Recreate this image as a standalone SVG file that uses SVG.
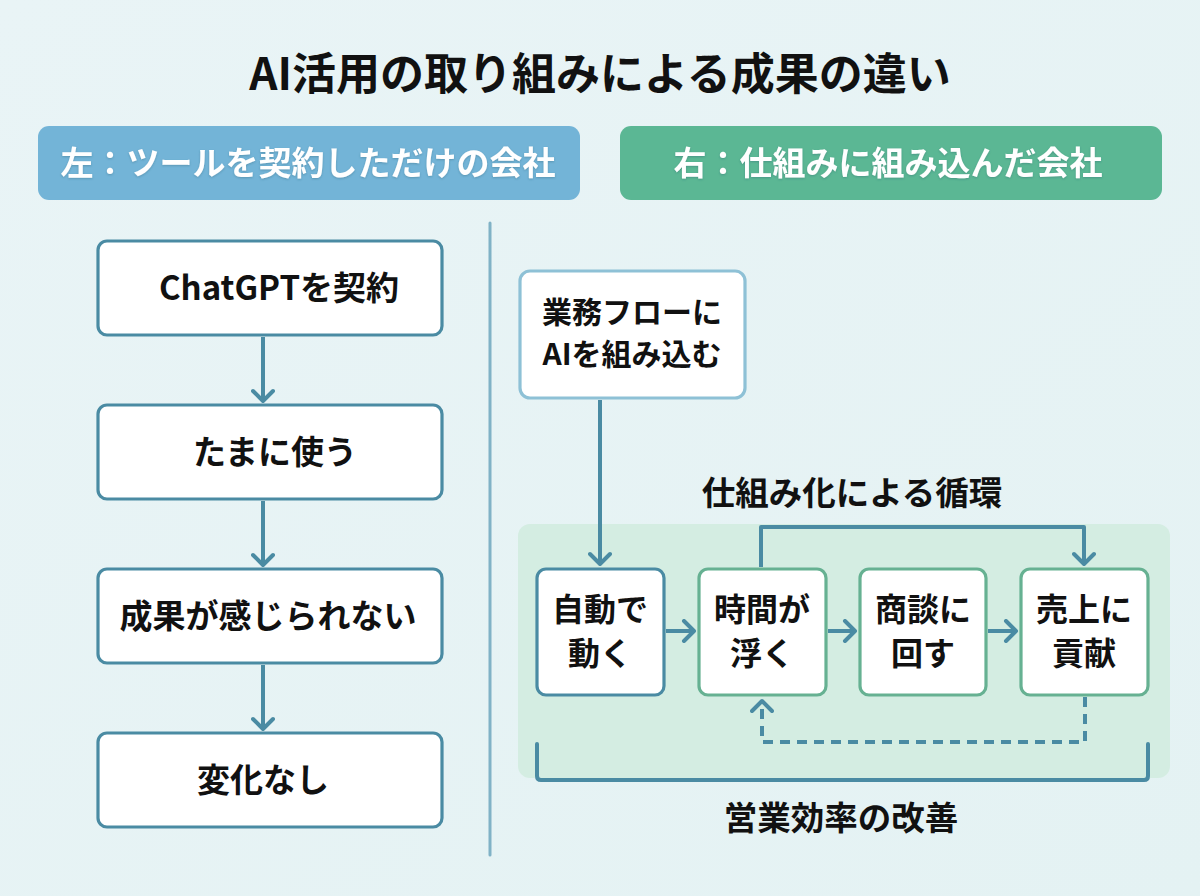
<svg xmlns="http://www.w3.org/2000/svg" width="1200" height="896" viewBox="0 0 1200 896">
<defs>
<linearGradient id="bg" x1="0" y1="0" x2="1" y2="1">
<stop offset="0" stop-color="#e9f4f6"/>
<stop offset="1" stop-color="#e4f2f3"/>
</linearGradient>
<filter id="ts" x="-5%" y="-20%" width="110%" height="140%">
<feDropShadow dx="0" dy="1" stdDeviation="1" flood-color="#2a5a6a" flood-opacity="0.35"/>
</filter>
<marker id="ah" viewBox="0 0 24 24" refX="12" refY="21" markerWidth="24" markerHeight="24" markerUnits="userSpaceOnUse" orient="0">
<path d="M2,11 L12,21 L22,11" fill="none" stroke="#4a8ba3" stroke-width="4" stroke-linecap="round" stroke-linejoin="round"/>
</marker>
<marker id="ahr" viewBox="0 0 24 24" refX="21" refY="12" markerWidth="24" markerHeight="24" markerUnits="userSpaceOnUse" orient="0">
<path d="M11,2 L21,12 L11,22" fill="none" stroke="#4a8ba3" stroke-width="4" stroke-linecap="round" stroke-linejoin="round"/>
</marker>
<marker id="ahu" viewBox="0 0 24 24" refX="12" refY="3" markerWidth="24" markerHeight="24" markerUnits="userSpaceOnUse" orient="0">
<path d="M2,13 L12,3 L22,13" fill="none" stroke="#4a8ba3" stroke-width="4" stroke-linecap="round" stroke-linejoin="round"/>
</marker>
</defs>
<style>
text{font-family:"Noto Sans CJK JP","Noto Sans",sans-serif;font-weight:700;fill:#111;text-anchor:middle}
.hd{fill:#fff;font-size:33px}
.bx{fill:#fff;stroke:#4a8ba3;stroke-width:3.2}
.gb{fill:#fff;stroke:#66b192;stroke-width:3.2}
.lt{fill:#fff;stroke:#8ec1d6;stroke-width:3.2}
.t{font-size:33px}
.t2{font-size:32px}
.t3{font-size:30px}
.c{fill:none;stroke:#4a8ba3;stroke-width:4;stroke-linejoin:round}
</style>
<rect width="1200" height="896" fill="url(#bg)"/>

<g id="title"><text x="600" y="90" style="font-size:44px">AI活用の取り組みによる成果の違い</text></g>

<g id="header-left">
<rect x="38" y="126" width="542" height="74" rx="11" fill="#73b4d7"/>
<text class="hd" x="308" y="175" filter="url(#ts)">左：ツールを契約しただけの会社</text>
</g>
<g id="header-right">
<rect x="620" y="126" width="542" height="74" rx="11" fill="#5bb794"/>
<text class="hd" x="888" y="175" filter="url(#ts)">右：仕組みに組み込んだ会社</text>
</g>

<g id="divider"><line x1="490" y1="223" x2="490" y2="855" stroke="#80b2c6" stroke-width="3" stroke-linecap="round"/></g>

<g id="cycle-panel"><rect x="518" y="524" width="652" height="254" rx="12" fill="#d4ede2"/></g>

<g id="connectors">
<line class="c" x1="263" y1="337" x2="263" y2="401" marker-end="url(#ah)"/>
<line class="c" x1="263" y1="501" x2="263" y2="565" marker-end="url(#ah)"/>
<line class="c" x1="263" y1="665" x2="263" y2="729" marker-end="url(#ah)"/>
<line class="c" x1="600" y1="400" x2="600" y2="564" marker-end="url(#ah)"/>
<line class="c" x1="666" y1="631" x2="694" y2="631" marker-end="url(#ahr)"/>
<line class="c" x1="828" y1="631" x2="855" y2="631" marker-end="url(#ahr)"/>
<line class="c" x1="988" y1="631" x2="1016" y2="631" marker-end="url(#ahr)"/>
<path class="c" d="M761,567 V527 H1084 V564" marker-end="url(#ah)"/>
<path class="c" d="M1085,697 V742 H762 V701" stroke-dasharray="10 7" marker-end="url(#ahu)"/>
<path class="c" d="M537,744 V776 Q537,780 541,780 H1144 Q1148,780 1148,776 V744" stroke-linecap="round"/>
</g>

<g id="node-chatgpt"><rect class="bx" x="98" y="241" width="344" height="94" rx="9"/><text class="t" x="279" y="300">ChatGPTを契約</text></g>
<g id="node-tamani"><rect class="bx" x="98" y="405" width="344" height="94" rx="9"/><text class="t" x="275" y="464">たまに使う</text></g>
<g id="node-seika"><rect class="bx" x="98" y="569" width="344" height="94" rx="9"/><text class="t" x="268" y="628">成果が感じられない</text></g>
<g id="node-henka"><rect class="bx" x="98" y="733" width="344" height="94" rx="9"/><text class="t" x="263" y="792">変化なし</text></g>

<g id="node-gyomu"><rect class="lt" x="520" y="271" width="225" height="127" rx="10"/><text class="t3" x="632" y="323">業務フローに</text><text class="t3" x="632" y="365">AIを組み込む</text></g>

<g id="label-cycle"><text x="852" y="505" style="font-size:33.5px">仕組み化による循環</text></g>

<g id="node-jido"><rect class="bx" x="537" y="569" width="127" height="126" rx="9"/><text class="t2" x="600" y="621">自動で</text><text class="t2" x="600" y="665">動く</text></g>
<g id="node-jikan"><rect class="gb" x="699" y="569" width="127" height="126" rx="9"/><text class="t2" x="762" y="621">時間が</text><text class="t2" x="762" y="665">浮く</text></g>
<g id="node-shodan"><rect class="gb" x="860" y="569" width="126" height="126" rx="9"/><text class="t2" x="923" y="621">商談に</text><text class="t2" x="923" y="665">回す</text></g>
<g id="node-uriage"><rect class="gb" x="1021" y="569" width="127" height="126" rx="9"/><text class="t2" x="1084" y="621">売上に</text><text class="t2" x="1084" y="665">貢献</text></g>

<g id="label-eigyo"><text x="841" y="830" style="font-size:33.5px">営業効率の改善</text></g>
</svg>
